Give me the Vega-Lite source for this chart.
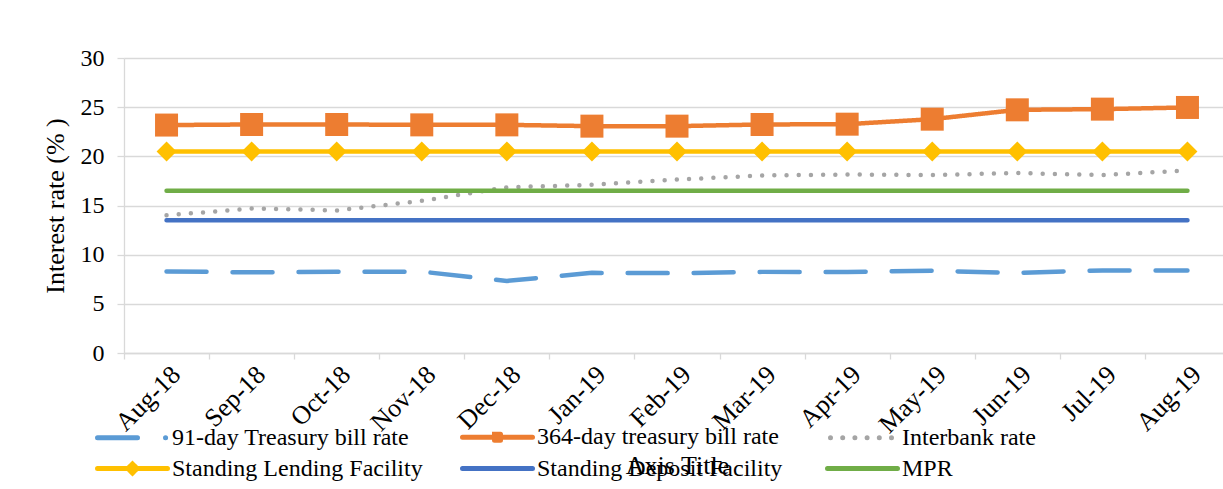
{
  "$schema": "https://vega.github.io/schema/vega-lite/v6.json",
  "width": 1099,
  "height": 295,
  "autosize": {"type": "none"},
  "padding": {"left": 124, "top": 58, "right": 0, "bottom": 136},
  "background": "white",
  "config": {
    "font": "Liberation Serif",
    "view": {"stroke": null}
  },
  "data": {
    "values": [
      {"month": "Aug-18", "series": "91-day Treasury bill rate", "value": 8.3},
      {"month": "Sep-18", "series": "91-day Treasury bill rate", "value": 8.2},
      {"month": "Oct-18", "series": "91-day Treasury bill rate", "value": 8.26},
      {"month": "Nov-18", "series": "91-day Treasury bill rate", "value": 8.27},
      {"month": "Dec-18", "series": "91-day Treasury bill rate", "value": 7.33},
      {"month": "Jan-19", "series": "91-day Treasury bill rate", "value": 8.15},
      {"month": "Feb-19", "series": "91-day Treasury bill rate", "value": 8.12},
      {"month": "Mar-19", "series": "91-day Treasury bill rate", "value": 8.25},
      {"month": "Apr-19", "series": "91-day Treasury bill rate", "value": 8.25},
      {"month": "May-19", "series": "91-day Treasury bill rate", "value": 8.36},
      {"month": "Jun-19", "series": "91-day Treasury bill rate", "value": 8.15},
      {"month": "Jul-19", "series": "91-day Treasury bill rate", "value": 8.4},
      {"month": "Aug-19", "series": "91-day Treasury bill rate", "value": 8.4},
      {"month": "Aug-18", "series": "364-day treasury bill rate", "value": 23.18},
      {"month": "Sep-18", "series": "364-day treasury bill rate", "value": 23.24},
      {"month": "Oct-18", "series": "364-day treasury bill rate", "value": 23.24},
      {"month": "Nov-18", "series": "364-day treasury bill rate", "value": 23.2},
      {"month": "Dec-18", "series": "364-day treasury bill rate", "value": 23.2},
      {"month": "Jan-19", "series": "364-day treasury bill rate", "value": 23.07},
      {"month": "Feb-19", "series": "364-day treasury bill rate", "value": 23.07},
      {"month": "Mar-19", "series": "364-day treasury bill rate", "value": 23.24},
      {"month": "Apr-19", "series": "364-day treasury bill rate", "value": 23.27},
      {"month": "May-19", "series": "364-day treasury bill rate", "value": 23.78},
      {"month": "Jun-19", "series": "364-day treasury bill rate", "value": 24.73},
      {"month": "Jul-19", "series": "364-day treasury bill rate", "value": 24.8},
      {"month": "Aug-19", "series": "364-day treasury bill rate", "value": 24.97},
      {"month": "Aug-18", "series": "Interbank rate", "value": 14.0},
      {"month": "Sep-18", "series": "Interbank rate", "value": 14.7},
      {"month": "Oct-18", "series": "Interbank rate", "value": 14.5},
      {"month": "Nov-18", "series": "Interbank rate", "value": 15.47},
      {"month": "Dec-18", "series": "Interbank rate", "value": 16.85},
      {"month": "Jan-19", "series": "Interbank rate", "value": 17.1},
      {"month": "Feb-19", "series": "Interbank rate", "value": 17.64},
      {"month": "Mar-19", "series": "Interbank rate", "value": 18.05},
      {"month": "Apr-19", "series": "Interbank rate", "value": 18.15},
      {"month": "May-19", "series": "Interbank rate", "value": 18.1},
      {"month": "Jun-19", "series": "Interbank rate", "value": 18.3},
      {"month": "Jul-19", "series": "Interbank rate", "value": 18.1},
      {"month": "Aug-19", "series": "Interbank rate", "value": 18.56},
      {"month": "Aug-18", "series": "Standing Lending Facility", "value": 20.5},
      {"month": "Sep-18", "series": "Standing Lending Facility", "value": 20.5},
      {"month": "Oct-18", "series": "Standing Lending Facility", "value": 20.5},
      {"month": "Nov-18", "series": "Standing Lending Facility", "value": 20.5},
      {"month": "Dec-18", "series": "Standing Lending Facility", "value": 20.5},
      {"month": "Jan-19", "series": "Standing Lending Facility", "value": 20.5},
      {"month": "Feb-19", "series": "Standing Lending Facility", "value": 20.5},
      {"month": "Mar-19", "series": "Standing Lending Facility", "value": 20.5},
      {"month": "Apr-19", "series": "Standing Lending Facility", "value": 20.5},
      {"month": "May-19", "series": "Standing Lending Facility", "value": 20.5},
      {"month": "Jun-19", "series": "Standing Lending Facility", "value": 20.5},
      {"month": "Jul-19", "series": "Standing Lending Facility", "value": 20.5},
      {"month": "Aug-19", "series": "Standing Lending Facility", "value": 20.5},
      {"month": "Aug-18", "series": "Standing Deposit Facility", "value": 13.5},
      {"month": "Sep-18", "series": "Standing Deposit Facility", "value": 13.5},
      {"month": "Oct-18", "series": "Standing Deposit Facility", "value": 13.5},
      {"month": "Nov-18", "series": "Standing Deposit Facility", "value": 13.5},
      {"month": "Dec-18", "series": "Standing Deposit Facility", "value": 13.5},
      {"month": "Jan-19", "series": "Standing Deposit Facility", "value": 13.5},
      {"month": "Feb-19", "series": "Standing Deposit Facility", "value": 13.5},
      {"month": "Mar-19", "series": "Standing Deposit Facility", "value": 13.5},
      {"month": "Apr-19", "series": "Standing Deposit Facility", "value": 13.5},
      {"month": "May-19", "series": "Standing Deposit Facility", "value": 13.5},
      {"month": "Jun-19", "series": "Standing Deposit Facility", "value": 13.5},
      {"month": "Jul-19", "series": "Standing Deposit Facility", "value": 13.5},
      {"month": "Aug-19", "series": "Standing Deposit Facility", "value": 13.5},
      {"month": "Aug-18", "series": "MPR", "value": 16.5},
      {"month": "Sep-18", "series": "MPR", "value": 16.5},
      {"month": "Oct-18", "series": "MPR", "value": 16.5},
      {"month": "Nov-18", "series": "MPR", "value": 16.5},
      {"month": "Dec-18", "series": "MPR", "value": 16.5},
      {"month": "Jan-19", "series": "MPR", "value": 16.5},
      {"month": "Feb-19", "series": "MPR", "value": 16.5},
      {"month": "Mar-19", "series": "MPR", "value": 16.5},
      {"month": "Apr-19", "series": "MPR", "value": 16.5},
      {"month": "May-19", "series": "MPR", "value": 16.5},
      {"month": "Jun-19", "series": "MPR", "value": 16.5},
      {"month": "Jul-19", "series": "MPR", "value": 16.5},
      {"month": "Aug-19", "series": "MPR", "value": 16.5}
    ]
  },
  "encoding": {
    "x": {
      "field": "month",
      "type": "ordinal",
      "sort": null,
      "bandPosition": 0.5,
      "scale": {"type": "band", "range": [0, 1106], "paddingInner": 0, "paddingOuter": 0},
      "axis": {
        "title": "Axis Title",
        "titleFont": "Liberation Serif",
        "titleFontSize": 26,
        "titleFontWeight": "normal",
        "titleColor": "black",
        "titleY": 99,
        "titleBaseline": "top",
        "labelAngle": -45,
        "labelFont": "Liberation Serif",
        "labelFontSize": 26,
        "labelColor": "black",
        "labelPadding": 2,
        "tickBand": "extent",
        "tickSize": 6,
        "tickColor": "#d9d9d9",
        "tickWidth": 1.3,
        "domainColor": "#d9d9d9",
        "domainWidth": 1.3,
        "grid": false
      }
    },
    "y": {
      "field": "value",
      "type": "quantitative",
      "scale": {"domain": [0, 30], "nice": false},
      "axis": {
        "title": "Interest rate (% )",
        "titleFont": "Liberation Serif",
        "titleFontSize": 26,
        "titleFontWeight": "normal",
        "titleColor": "black",
        "titlePadding": 12,
        "values": [0, 5, 10, 15, 20, 25, 30],
        "labelFont": "Liberation Serif",
        "labelFontSize": 24,
        "labelColor": "black",
        "labelPadding": 13,
        "tickSize": 7,
        "tickColor": "#d9d9d9",
        "tickWidth": 1.3,
        "domainColor": "#d9d9d9",
        "domainWidth": 1.3,
        "grid": true,
        "gridColor": "#d9d9d9",
        "gridWidth": 1.3
      }
    }
  },
  "layer": [
    {
      "mark": {"type": "line", "strokeWidth": 4.5, "strokeCap": "round"},
      "encoding": {
        "color": {
          "field": "series",
          "type": "nominal",
          "scale": {
            "domain": ["91-day Treasury bill rate", "364-day treasury bill rate", "Interbank rate", "Standing Lending Facility", "Standing Deposit Facility", "MPR"],
            "range": ["#5B9BD5", "#ED7D31", "#A5A5A5", "#FFC000", "#4472C4", "#70AD47"]
          },
          "legend": {
            "orient": "none",
            "legendX": -4,
            "legendY": 366,
            "columns": 3,
            "direction": "horizontal",
            "title": null,
            "symbolSize": 400,
            "symbolStrokeWidth": 5,
            "labelFont": "Liberation Serif",
            "labelFontSize": 24,
            "labelColor": "black",
            "labelLimit": 400,
            "labelOffset": 27,
            "gridAlign": "all",
            "columnPadding": 29,
            "rowPadding": 3,
            "padding": 0,
            "encoding": {
              "symbols": {
                "shape": {"value": {"expr": "datum.value == '91-day Treasury bill rate' ? 'M-3.5,0H1M3.3,0H3.31' : datum.value == '364-day treasury bill rate' ? 'M-3.5,0H3.5M-0.3,-0.3H0.3V0.3H-0.3Z' : datum.value == 'Interbank rate' ? 'M-3.2,0H3.2' : datum.value == 'Standing Lending Facility' ? 'M-3.5,0H3.5M-0.45,0L0,-0.45L0.45,0L0,0.45Z' : 'M-3.5,0H3.5'"}},
                "fill": {"value": {"expr": "scale('color', datum.value)"}},
                "stroke": {"value": {"expr": "scale('color', datum.value)"}},
                "strokeDash": {"value": {"expr": "datum.value == 'Interbank rate' ? [0, 12.8] : [1, 0]"}},
                "strokeCap": {"value": "round"},
                "strokeWidth": {"value": 5},
                "opacity": {"value": 1}
              }
            }
          }
        },
        "strokeDash": {
          "field": "series",
          "type": "nominal",
          "scale": {
            "domain": ["91-day Treasury bill rate", "364-day treasury bill rate", "Interbank rate", "Standing Lending Facility", "Standing Deposit Facility", "MPR"],
            "range": [[40, 26], [1, 0], [0, 12.2], [1, 0], [1, 0], [1, 0]]
          },
          "legend": null
        }
      }
    },
    {
      "transform": [{"filter": "datum.series == '364-day treasury bill rate'"}],
      "mark": {"type": "point", "shape": "square", "filled": true, "size": 529, "opacity": 1, "color": "#ED7D31"}
    },
    {
      "transform": [{"filter": "datum.series == 'Standing Lending Facility'"}],
      "mark": {"type": "point", "shape": "diamond", "filled": true, "size": 400, "opacity": 1, "color": "#FFC000"}
    }
  ]
}
